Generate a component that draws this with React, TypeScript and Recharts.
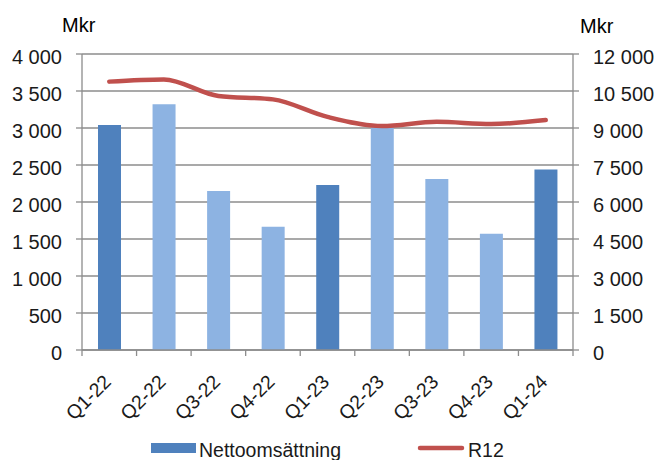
import { ComposedChart, Bar, Line, XAxis, YAxis, CartesianGrid, Legend, Cell } from 'recharts'

const categories = ['Q1-22', 'Q2-22', 'Q3-22', 'Q4-22', 'Q1-23', 'Q2-23', 'Q3-23', 'Q4-23', 'Q1-24']
const netSales = [3040, 3320, 2150, 1665, 2230, 3000, 2310, 1570, 2440]
const r12 = [10880, 10970, 10300, 10160, 9450, 9080, 9250, 9160, 9320]
const leftTicks = [0, 500, 1000, 1500, 2000, 2500, 3000, 3500, 4000]
const rightTicks = [0, 1500, 3000, 4500, 6000, 7500, 9000, 10500, 12000]

const data = categories.map((name, i) => ({ name, sales: netSales[i], r12: r12[i] }))

const FONT = '"Liberation Sans", Arial, sans-serif'
const DARK = '#4F81BD'
const LIGHT = '#8DB3E2'
const RED = '#C0504D'
const GRID = '#8c8c8c'
const TEXT = '#1a1a1a'

const fmt = (v: number) => v.toLocaleString('en-US').replace(/,/g, ' ')

const LeftTick = ({ x, y, payload }: any) => (
  <text x={x} y={y} dy={9.5} textAnchor="end" fontSize={20} fontFamily={FONT} fill={TEXT}>
    {fmt(payload.value)}
  </text>
)

const RightTick = ({ x, y, payload }: any) => (
  <text x={x} y={y} dy={9.5} textAnchor="start" fontSize={20} fontFamily={FONT} fill={TEXT}>
    {fmt(payload.value)}
  </text>
)

const CatTick = ({ x, y, payload, index }: any) => {
  const half = payload.offset || 491 / 18
  const ax = x + 3
  const ay = y + 33
  return (
    <g>
      <line x1={x - half} x2={x - half} y1={y} y2={y + 6} stroke={GRID} strokeWidth={1.3} />
      {index === categories.length - 1 && (
        <line x1={x + half} x2={x + half} y1={y} y2={y + 6} stroke={GRID} strokeWidth={1.3} />
      )}
      <text x={ax} y={ay} transform={`rotate(-45 ${ax} ${ay})`} textAnchor="end" fontSize={19.5} fontFamily={FONT} fill={TEXT}>
        {payload.value}
      </text>
    </g>
  )
}

const ChartLegend = () => (
  <svg width={658} height={24} style={{ display: 'block' }}>
    <rect x={151} y={7} width={45} height={10} fill={DARK} />
    <text x={199} y={21} fontSize={19.5} fontFamily={FONT} fill={TEXT}>Nettoomsättning</text>
    <line x1={420} x2={462} y1={12} y2={12} stroke={RED} strokeWidth={4.5} strokeLinecap="round" />
    <text x={468} y={21} fontSize={19.5} fontFamily={FONT} fill={TEXT}>R12</text>
  </svg>
)

export default function App() {
  return (
    <div style={{ position: 'absolute', left: 0, top: 0, width: 658, height: 460, background: '#fff' }}>
      <ComposedChart
        width={658}
        height={460}
        data={data}
        margin={{ top: 54, right: 0, left: 0, bottom: 0 }}
        barCategoryGap={0}
      >
        <CartesianGrid vertical={false} stroke={GRID} strokeWidth={1.3} yAxisId="left" />
        <XAxis
          dataKey="name"
          height={110}
          tickSize={0}
          tickMargin={0}
          tickLine={false}
          axisLine={{ stroke: GRID, strokeWidth: 1.3 }}
          interval={0}
          tick={<CatTick />}
        />
        <YAxis
          yAxisId="left"
          width={82}
          domain={[0, 4000]}
          ticks={leftTicks}
          tickSize={6}
          tickMargin={14}
          tickLine={{ stroke: GRID, strokeWidth: 1.3 }}
          axisLine={{ stroke: GRID, strokeWidth: 1.3 }}
          tick={<LeftTick />}
          label={{
            content: ({ viewBox }: any) => (
              <text x={viewBox.x + 62} y={viewBox.y - 22} fontSize={20} fontFamily={FONT} fill="#000">Mkr</text>
            ),
          }}
        />
        <YAxis
          yAxisId="right"
          orientation="right"
          width={85}
          domain={[0, 12000]}
          ticks={rightTicks}
          tickSize={6}
          tickMargin={14}
          tickLine={{ stroke: GRID, strokeWidth: 1.3 }}
          axisLine={{ stroke: GRID, strokeWidth: 1.3 }}
          tick={<RightTick />}
          label={{
            content: ({ viewBox }: any) => (
              <text x={viewBox.x + 7} y={viewBox.y - 21} fontSize={20} fontFamily={FONT} fill="#000">Mkr</text>
            ),
          }}
        />
        <Legend
          layout="horizontal"
          verticalAlign="middle"
          align="center"
          wrapperStyle={{ top: 436, left: 0, width: 658 }}
          content={<ChartLegend />}
        />
        <Bar dataKey="sales" yAxisId="left" barSize={23} fill={DARK} isAnimationActive={false}>
          {categories.map((c) => (
            <Cell key={c} fill={c.startsWith('Q1') ? DARK : LIGHT} />
          ))}
        </Bar>
        <Line
          dataKey="r12"
          yAxisId="right"
          type="monotone"
          stroke={RED}
          strokeWidth={4.5}
          strokeLinecap="round"
          dot={false}
          activeDot={false}
          isAnimationActive={false}
        />
      </ComposedChart>
    </div>
  )
}
